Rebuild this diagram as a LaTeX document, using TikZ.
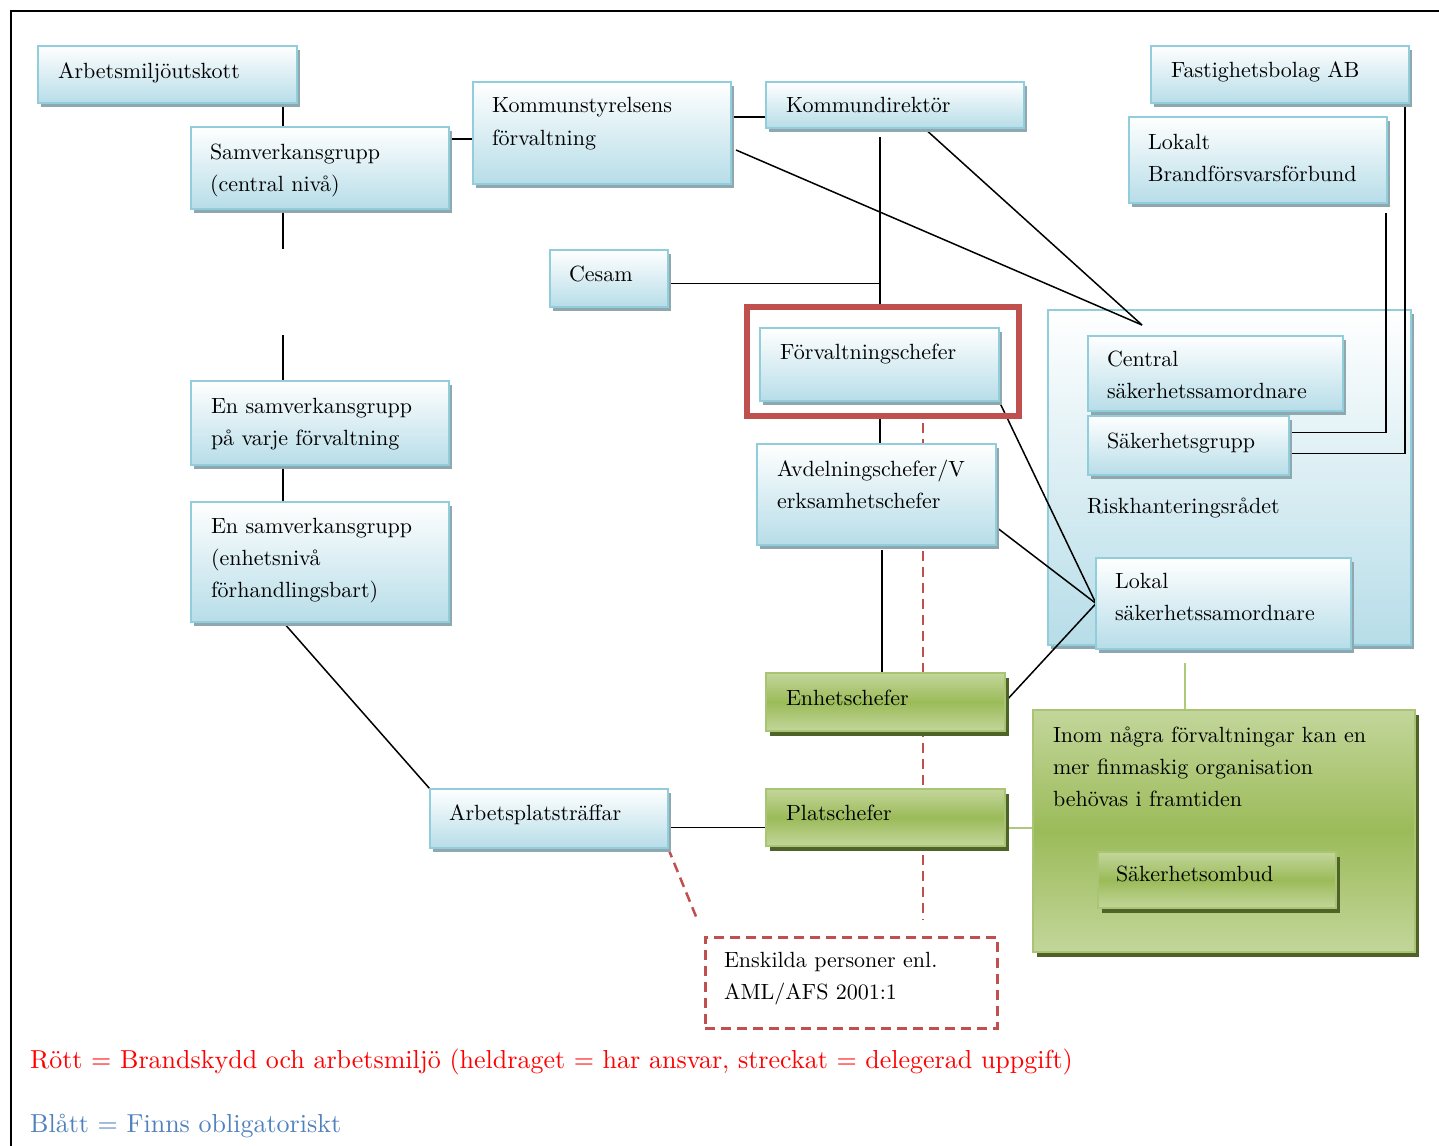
\documentclass[tikz,border=0pt]{standalone}
\usepackage{fontspec}
\setmainfont{lmroman10-regular}[Extension=.otf]
\usetikzlibrary{shadows}
\definecolor{bline}{HTML}{92CDDC}
\definecolor{bfill}{HTML}{B7DDE8}
\definecolor{bshadow}{HTML}{8FA8B0}
\definecolor{gline}{HTML}{A9C574}
\definecolor{glight}{HTML}{C3D69B}
\definecolor{gmid}{HTML}{9BBB59}
\definecolor{gshadow}{HTML}{4F6228}
\definecolor{redbox}{HTML}{C0504D}
\definecolor{legblue}{HTML}{4F81BD}
\pgfdeclarelayer{cont}
\pgfdeclarelayer{lines}
\pgfsetlayers{cont,lines,main}
\tikzset{
  bbox/.style={draw=bline, line width=1.5pt, top color=white, bottom color=bfill,
    inner sep=0pt, outer sep=0pt, anchor=north west,
    general shadow={fill=bshadow, shadow xshift=3pt, shadow yshift=-4pt}},
  gbox/.style={draw=gline, line width=1.5pt, top color=glight, bottom color=glight, middle color=gmid,
    inner sep=0pt, outer sep=0pt, anchor=north west,
    general shadow={fill=gshadow, shadow xshift=4pt, shadow yshift=-5pt}},
  txt/.style={anchor=base west, inner sep=0pt, outer sep=0pt, text width=380pt, align=left,
    font=\fontsize{22}{32.4}\selectfont},
  legend/.style={anchor=base west, inner sep=0pt, font=\fontsize{26}{30}\selectfont},
  conn/.style={draw=black, line width=1.5pt},
  gconn/.style={draw=gmid!80!white, line width=2pt},
  rdash/.style={draw=redbox, line width=2.5pt, dash pattern=on 10pt off 6pt}
}
\begin{document}
\begin{tikzpicture}[x=1pt,y=-1pt]
\useasboundingbox (0,0) rectangle (1439,1145);
% page frame
\draw[line width=2pt] (11,1160) -- (11,11) -- (1460,11);

% safety council container
\begin{pgfonlayer}{cont}
\node[bbox, minimum width=363pt, minimum height=335pt] (risk) at (1048,310) {};
\end{pgfonlayer}

% blue boxes
\node[bbox, minimum width=259pt, minimum height=57pt]  (arb)     at (38,46)   {};
\node[bbox, minimum width=258pt, minimum height=82pt]  (samc)    at (191,127) {};
\node[bbox, minimum width=258pt, minimum height=102pt] (ksf)     at (473,82)  {};
\node[bbox, minimum width=258pt, minimum height=46pt]  (kd)      at (766,82)  {};
\node[bbox, minimum width=258pt, minimum height=57pt]  (fast)    at (1151,46) {};
\node[bbox, minimum width=258pt, minimum height=86pt]  (brand)   at (1129,117) {};
\node[bbox, minimum width=118pt, minimum height=57pt]  (cesam)   at (550,250) {};
\node[bbox, minimum width=239pt, minimum height=73pt]  (forv)    at (760,328) {};
\node[bbox, minimum width=239pt, minimum height=101pt] (avd)     at (757,444) {};
\node[bbox, minimum width=255pt, minimum height=75pt]  (central) at (1088,336) {};
\node[bbox, minimum width=201pt, minimum height=59pt]  (sgrp)    at (1088,416) {};
\node[bbox, minimum width=255pt, minimum height=91pt]  (lokal)   at (1096,558) {};
\node[bbox, minimum width=258pt, minimum height=84pt]  (ensv)    at (191,381) {};
\node[bbox, minimum width=258pt, minimum height=120pt] (ensv2)   at (191,502) {};
\node[bbox, minimum width=238pt, minimum height=59pt]  (apt)     at (430,789) {};

% red frame round the department heads
\node[draw=redbox, line width=6pt, inner sep=0pt, anchor=north west,
      minimum width=272pt, minimum height=109pt] (red) at (744,304) {};

% green boxes
\node[gbox, minimum width=239pt, minimum height=58pt]  (enh)  at (766,673)  {};
\node[gbox, minimum width=239pt, minimum height=57pt]  (plat) at (766,789)  {};
\node[gbox, minimum width=382pt, minimum height=242pt] (gbig) at (1033,710) {};
\node[gbox, minimum width=238pt, minimum height=56pt]  (somb) at (1098,852) {};

% dashed box
\node[rdash, inner sep=0pt, anchor=north west, minimum width=292pt, minimum height=91pt]
  (enskild) at (704,936) {};

% fixed points for the connectors
\coordinate (colA)   at (283,0);
\coordinate (spine)  at (880,137);
\coordinate (spineB) at (882,0);
\coordinate (hub)    at (1142,325);
\coordinate (gcol)   at (1185,0);
\coordinate (dcol)   at (923,0);

\begin{pgfonlayer}{lines}
\draw[conn] (arb.south -| colA) -- (samc.north -| colA);
\draw[conn] ([yshift=-12pt]samc.north east) coordinate (a1) -- (ksf.west |- a1);
\draw[conn] (samc.south -| colA) -- ++(0,40);
\draw[conn] (ensv.north -| colA) -- ++(0,-46);
\draw[conn] (ensv.south -| colA) -- (ensv2.north -| colA);
\draw[conn] (ensv2.south -| colA) -- (apt.north west);
\draw[conn] ([yshift=-35pt]ksf.north east) coordinate (a2) -- (kd.west |- a2);
\draw[conn] ([shift={(5,68)}]ksf.north east) -- (hub);
\draw[conn] ([xshift=29pt]kd.south) -- (hub);
\draw[conn] (spine) -- (red.north -| spine);
\draw[conn] ([yshift=-5pt]cesam.east) coordinate (a3) -- (spine |- a3);
\draw[conn] (red.south -| spine) -- (avd.north -| spine);
\draw[conn, shorten <=5pt] (avd.south -| spineB) -- (enh.north -| spineB);
\draw[conn] (forv.south east) -- (lokal.west);
\draw[conn] ([yshift=18pt]avd.south east) -- (lokal.west);
\draw[conn] (enh.east) -- (lokal.west);
\draw[conn] ([yshift=-9pt]apt.east) coordinate (a4) -- (plat.west |- a4);
\draw[conn] ([xshift=-4pt,yshift=11pt]fast.south east) |- ([yshift=-8pt]sgrp.east);
\draw[conn] ([xshift=-1pt,yshift=-10pt]brand.south east) |- ([yshift=13pt]sgrp.east);
\draw[gconn, shorten <=14pt] (lokal.south -| gcol) -- (gbig.north -| gcol);
\draw[gconn] (plat.east |- a4) -- (gbig.west |- a4);
\draw[rdash, shorten <=4pt, shorten >=16pt] (red.south -| dcol) -- (enskild.north -| dcol);
\draw[rdash, shorten >=16pt] (apt.south east) -- (enskild.north west);
\end{pgfonlayer}

% texts
\node[txt] (tArb)     at (58,79)    {Arbetsmiljöutskott};
\node[txt] (tSamc)    at (210,159)  {Samverkansgrupp\\(central nivå)};
\node[txt] (tKsf)     at (492,113)  {Kommunstyrelsens\\förvaltning};
\node[txt] (tKd)      at (786,113)  {Kommundirektör};
\node[txt] (tFast)    at (1171,78)  {Fastighetsbolag AB};
\node[txt] (tBrand)   at (1148,149) {Lokalt\\Brandförsvarsförbund};
\node[txt] (tCesam)   at (569,281)  {Cesam};
\node[txt] (tForv)    at (780,359)  {Förvaltningschefer};
\node[txt] (tAvd)     at (777,476)  {Avdelningschefer/V\\erksamhetschefer};
\node[txt] (tCentral) at (1107,366) {Central\\säkerhetssamordnare};
\node[txt] (tSgrp)    at (1107,448) {Säkerhetsgrupp};
\node[txt] (tRisk)    at (1087,513) {Riskhanteringsrådet};
\node[txt] (tLokal)   at (1115,588) {Lokal\\säkerhetssamordnare};
\node[txt] (tEnsv)    at (211,413)  {En samverkansgrupp\\på varje förvaltning};
\node[txt] (tEnsv2)   at (211,533)  {En samverkansgrupp\\(enhetsnivå\\förhandlingsbart)};
\node[txt] (tApt)     at (449,820)  {Arbetsplatsträffar};
\node[txt] (tEnh)     at (786,705)  {Enhetschefer};
\node[txt] (tPlat)    at (786,820)  {Platschefer};
\node[txt] (tGbig)    at (1053,742) {Inom några förvaltningar kan en\\mer finmaskig organisation\\behövas i framtiden};
\node[txt] (tSomb)    at (1116,881) {Säkerhetsombud};
\node[txt] (tEnsk)    at (724,967)  {Enskilda personer enl.\\AML/AFS 2001:1};

% legend
\node[legend, text=red]     (legRed)  at (30,1068) {Rött = Brandskydd och arbetsmiljö (heldraget = har ansvar, streckat = delegerad uppgift)};
\node[legend, text=legblue] (legBlue) at (30,1132) {Blått = Finns obligatoriskt};
\end{tikzpicture}
\end{document}
